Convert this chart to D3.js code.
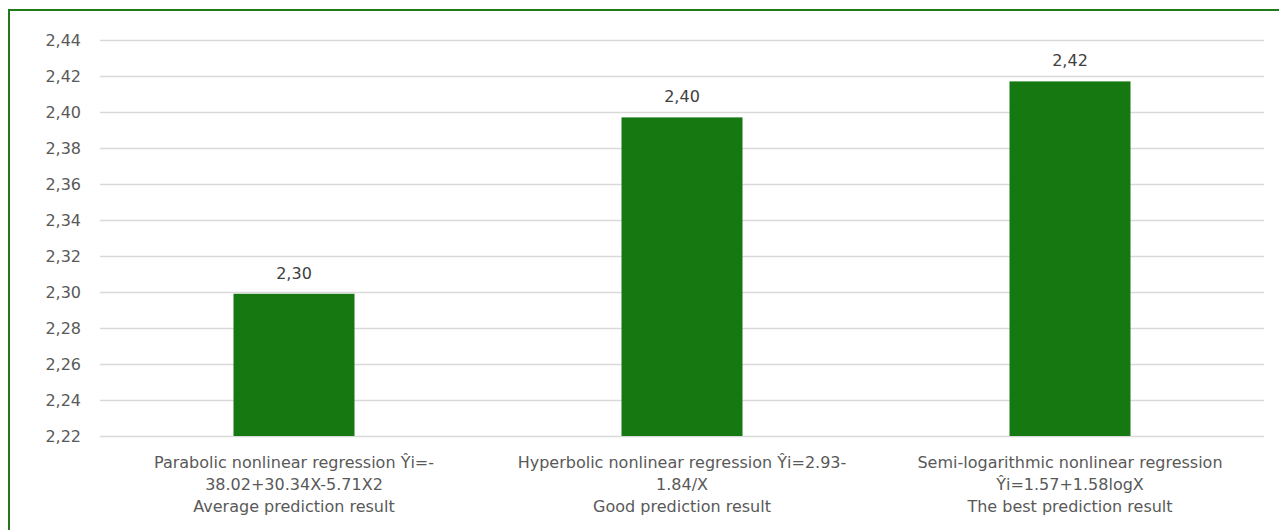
<!DOCTYPE html>
<html>
<head>
<meta charset="utf-8">
<script src="https://cdn.jsdelivr.net/npm/d3@7"></script>
<style>
  html, body { margin: 0; padding: 0; background: #fff; }
  svg { display: block; }
</style>
</head>
<body>
<svg id="chart" width="1279" height="530"></svg>
<script>
// Regression models compared by predicted value
const categories = [
  ["Parabolic nonlinear regression \u0176i=-", "38.02+30.34X-5.71X2", "Average prediction result"],
  ["Hyperbolic nonlinear regression \u0176i=2.93-", "1.84/X", "Good prediction result"],
  ["Semi-logarithmic nonlinear regression", "\u0176i=1.57+1.58logX", "The best prediction result"]
];
const values = [2.299, 2.397, 2.417];
const yTicks = [2.22, 2.24, 2.26, 2.28, 2.30, 2.32, 2.34, 2.36, 2.38, 2.40, 2.42, 2.44];

const svg = d3.select("#chart");
const W = 1279, H = 530;
const plot = { left: 100, right: 1264, top: 40, bottom: 436 };
const font = "DejaVu Sans, Verdana, sans-serif";

// outer frame
svg.append("rect")
  .attr("x", 9).attr("y", 10)
  .attr("width", W + 10).attr("height", H + 10)
  .attr("fill", "none")
  .attr("stroke", "#217a1a")
  .attr("stroke-width", 2);

const x = d3.scaleBand()
  .domain(d3.range(categories.length))
  .range([plot.left, plot.right])
  .padding(0);

const y = d3.scaleLinear()
  .domain([2.22, 2.44])
  .range([plot.bottom, plot.top]);

const fmt = v => d3.format(".2f")(v).replace(".", ",");

// horizontal gridlines
svg.append("g")
  .selectAll("line")
  .data(yTicks)
  .join("line")
  .attr("x1", plot.left).attr("x2", plot.right)
  .attr("y1", d => Math.round(y(d)) + 0.5).attr("y2", d => Math.round(y(d)) + 0.5)
  .attr("stroke", "#d9d9d9")
  .attr("stroke-width", 1.5);

// y axis labels
const yAxis = d3.axisLeft(y).tickValues(yTicks).tickFormat(fmt).tickSize(0).tickPadding(0);
const gy = svg.append("g")
  .attr("transform", `translate(${81},0)`)
  .call(yAxis);
gy.select(".domain").remove();
gy.selectAll("text")
  .attr("font-family", font)
  .attr("font-size", 16)
  .attr("fill", "#595959");

// bars
const barW = 121;
svg.append("g")
  .selectAll("rect")
  .data(values)
  .join("rect")
  .attr("x", (d, i) => x(i) + x.bandwidth() / 2 - barW / 2)
  .attr("width", barW)
  .attr("y", d => y(d))
  .attr("height", d => y(2.22) - y(d))
  .attr("fill", "#157811");

// value labels
svg.append("g")
  .selectAll("text")
  .data(values)
  .join("text")
  .attr("x", (d, i) => x(i) + x.bandwidth() / 2)
  .attr("y", d => y(d) - 15)
  .attr("text-anchor", "middle")
  .attr("font-family", font)
  .attr("font-size", 16)
  .attr("fill", "#404040")
  .text(d => fmt(d));

// category labels
const cat = svg.append("g")
  .selectAll("text")
  .data(categories)
  .join("text")
  .attr("x", (d, i) => x(i) + x.bandwidth() / 2)
  .attr("y", 468)
  .attr("text-anchor", "middle")
  .attr("font-family", font)
  .attr("font-size", 16)
  .attr("fill", "#595959");
cat.selectAll("tspan")
  .data(d => d)
  .join("tspan")
  .attr("x", function () { return d3.select(this.parentNode).attr("x"); })
  .attr("dy", (d, j) => j === 0 ? 0 : 22)
  .text(d => d);
</script>
</body>
</html>
